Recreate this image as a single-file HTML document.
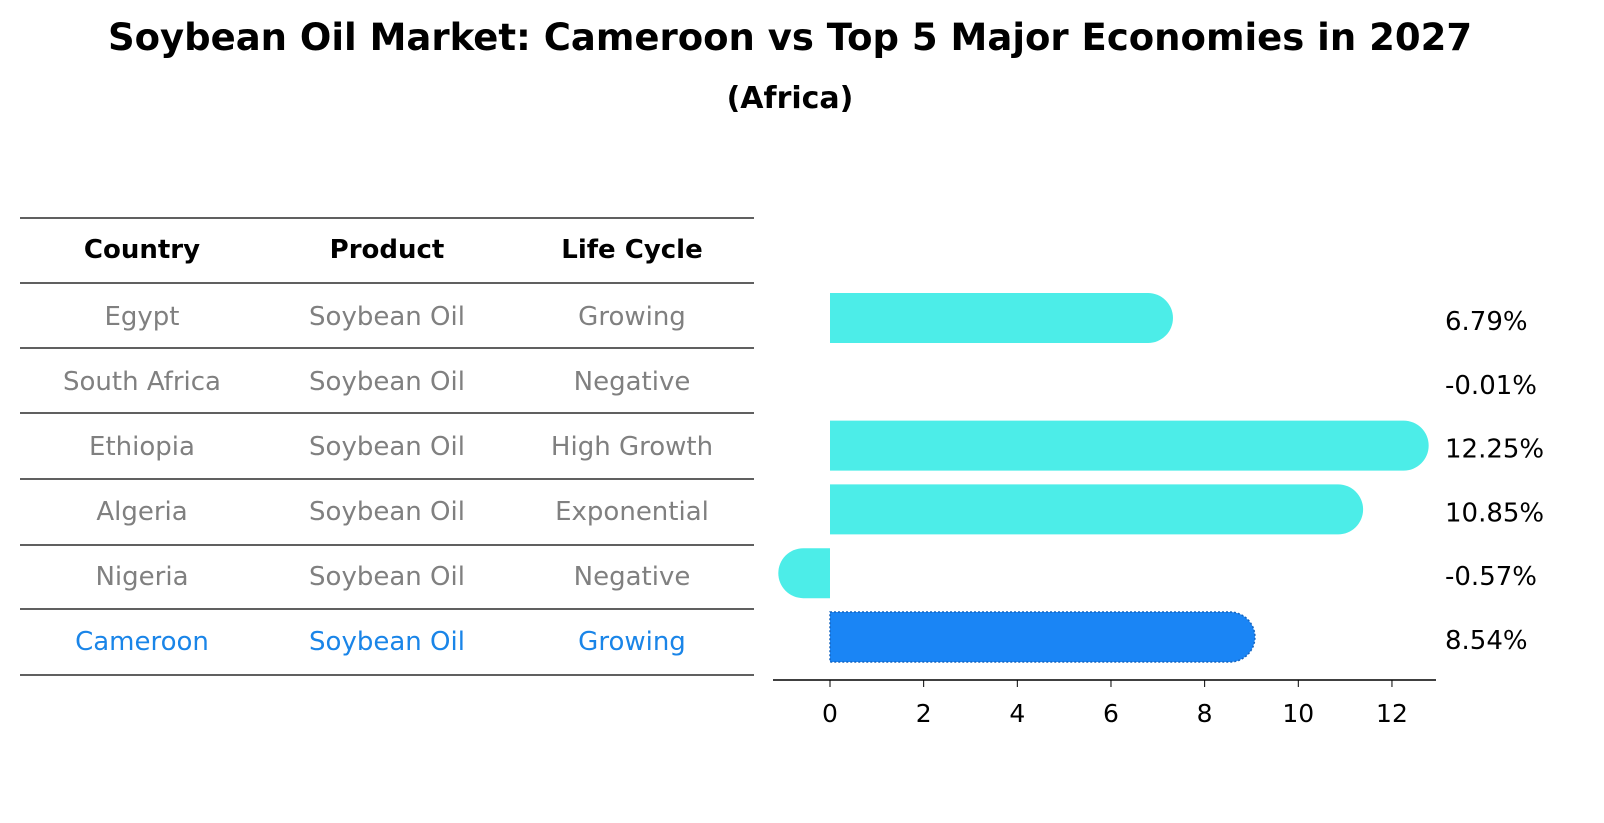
<!DOCTYPE html>
<html><head><meta charset="utf-8"><style>
body{margin:0;background:#fff;font-family:"DejaVu Sans","Liberation Sans",sans-serif;}
#wrap{position:relative;width:1604px;height:823px;overflow:hidden;}
</style></head><body>
<div id="wrap">
<svg id="svg" width="1604" height="823" style="position:absolute;left:0;top:0">
<text x="790" y="50" text-anchor="middle" font-size="37" font-weight="bold" font-family="DejaVu Sans, Liberation Sans, sans-serif">Soybean Oil Market: Cameroon vs Top 5 Major Economies in 2027</text>
<text x="790" y="108" text-anchor="middle" font-size="30" font-weight="bold" font-family="DejaVu Sans, Liberation Sans, sans-serif">(Africa)</text>
</svg>
</div>
<script>
const countries=["Egypt","South Africa","Ethiopia","Algeria","Nigeria","Cameroon"];
const products=["Soybean Oil","Soybean Oil","Soybean Oil","Soybean Oil","Soybean Oil","Soybean Oil"];
const lifeCycles=["Growing","Negative","High Growth","Exponential","Negative","Growing"];
const growthValues=[6.79,-0.01,12.25,10.85,-0.57,8.54];
const growthLabels=["6.79%","-0.01%","12.25%","10.85%","-0.57%","8.54%"];
const xTicks=[0,2,4,6,8,10,12];
const headers=["Country","Product","Life Cycle"];

const NS="http://www.w3.org/2000/svg";
const svg=document.getElementById('svg');
const FF='DejaVu Sans, Liberation Sans, sans-serif';
function mk(tag,attrs,name){const e=document.createElementNS(NS,tag);for(const k in attrs)e.setAttribute(k,attrs[k]);


svg.appendChild(e);return e;}
const x=v=>830+v*46.83;
const rowY=i=>318+i*63.8;
// table
const lineYs=[218,283,348,413,479,545,609,675];
lineYs.forEach((ly,i)=>mk('line',{x1:20,x2:754,y1:ly,y2:ly,stroke:'#000','stroke-width':1.2},'table-rule-'+i));
const colX=[142,387,632];
headers.forEach((h,j)=>{const t=mk('text',{x:colX[j],y:258,'text-anchor':'middle','font-size':26,'font-weight':'bold','font-family':FF},'header-'+h.toLowerCase().replace(' ','-'));t.textContent=h;});
countries.forEach((c,i)=>{const y=325+i*65;const col=i===5?'#1a85e8':'#808080';
[c,products[i],lifeCycles[i]].forEach((v,j)=>{const t=mk('text',{x:colX[j],y:y,'text-anchor':'middle','font-size':26,fill:col,'font-family':FF},'cell-'+c.toLowerCase().replace(' ','-')+'-'+j);t.textContent=v;});});
// bars
const h=50,r=25;
growthValues.forEach((v,i)=>{const cy=rowY(i);const hi=i===5;const fill=hi?'#1a85f5':'#4cede8';
const x0=x(0),x1=x(v);
if(Math.abs(x1-x0)>0.5){
 let d;
 if(v>=0) d=`M${x0},${cy-h/2}H${x1}A${r},${r} 0 0 1 ${x1},${cy+h/2}H${x0}Z`;
 else d=`M${x0},${cy-h/2}H${x1}A${r},${r} 0 0 0 ${x1},${cy+h/2}H${x0}Z`;
 const p=mk('path',{d:d,fill:fill},'bar-'+countries[i].toLowerCase().replace(' ','-'));
 if(hi){p.setAttribute('stroke','#1565c0');p.setAttribute('stroke-dasharray','2,2');p.setAttribute('stroke-width','1.5');}
}
const t=mk('text',{x:1445,y:cy+12,'font-size':26,'font-family':FF},'value-label-'+i);t.textContent=growthLabels[i];});
// axis
mk('line',{x1:773,x2:1436,y1:680,y2:680,stroke:'#000','stroke-width':1.5},'x-axis-line');
xTicks.forEach(v=>{mk('line',{x1:x(v),x2:x(v),y1:680,y2:687,stroke:'#000','stroke-width':1},'x-tick-'+v);
const t=mk('text',{x:x(v),y:722,'text-anchor':'middle','font-size':25,'font-family':FF},'x-tick-label-'+v);t.textContent=v;});
</script>
</body></html>
